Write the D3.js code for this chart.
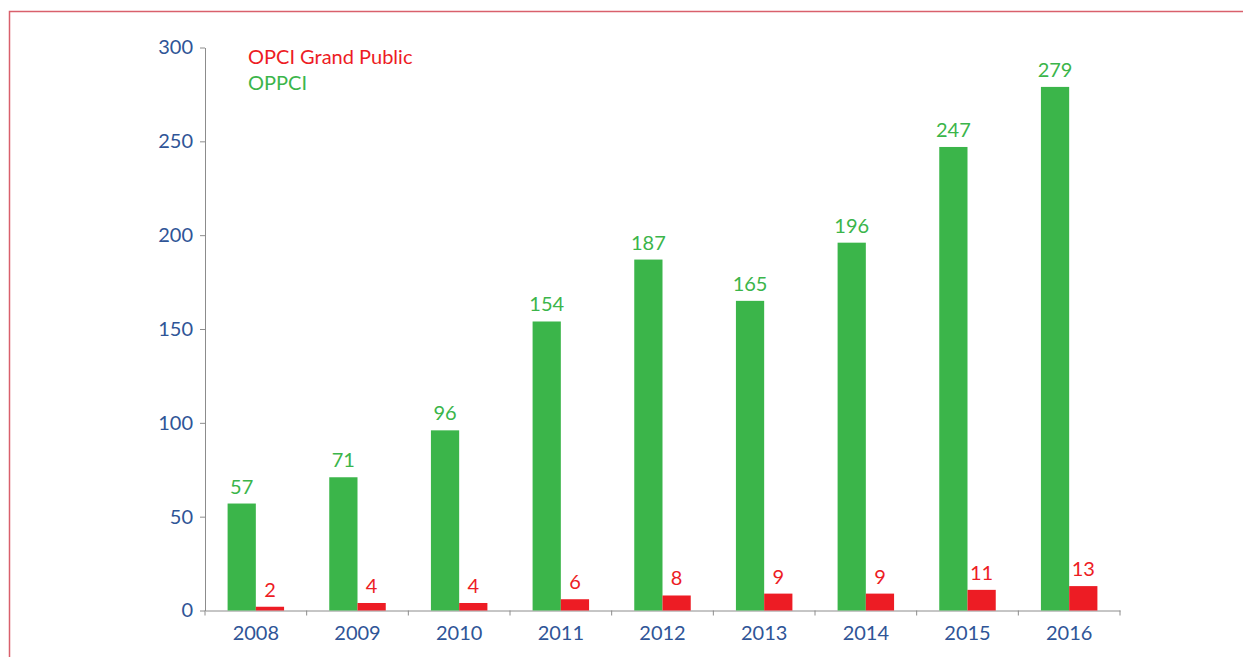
<!DOCTYPE html>
<html>
<head>
<meta charset="utf-8">
<script src="https://cdn.jsdelivr.net/npm/d3@7"></script>
<style>
  body { margin: 0; background: #fff; }
  svg { display: block; }
  svg text { font-family: Lato, "Open Sans", sans-serif; }
</style>
</head>
<body>
<div id="chart"></div>
<script>
const years = ['2008', '2009', '2010', '2011', '2012', '2013', '2014', '2015', '2016']
const oppci = [57, 71, 96, 154, 187, 165, 196, 247, 279]
const opciGP = [2, 4, 4, 6, 8, 9, 9, 11, 13]
const yTicks = [0, 50, 100, 150, 200, 250, 300]

const W = 1243, H = 657
const margin = {top: 47.5, right: 123, bottom: 46.5, left: 205}
const width = W - margin.left - margin.right
const height = H - margin.top - margin.bottom
const fs = 20

const green = '#3bb54a', red = '#ed1c24', blue = '#2f5597', axisCol = '#8c8c8c'

const svg = d3.select('#chart').append('svg')
    .attr('width', W)
    .attr('height', H)

// cadre rose
svg.append('path')
    .attr('d', `M9.5,${H} L9.5,11.5 L${W},11.5`)
    .attr('fill', 'none')
    .attr('stroke', '#d9606c')
    .attr('stroke-width', 1.5)

const g = svg.append('g').attr('transform', `translate(${margin.left},${margin.top})`)

const x = d3.scaleBand().domain(years).range([0, width]).paddingInner(0).paddingOuter(0)
const inner = d3.scaleBand().domain(['oppci', 'gp']).range([0, x.bandwidth()]).paddingInner(0).paddingOuter(0.8)
const y = d3.scaleLinear().domain([0, 300]).range([height, 0])

// axes
const yAxis = d3.axisLeft(y).tickValues(yTicks).tickSize(5).tickSizeOuter(0)
const yg = g.append('g').call(yAxis)
yg.select('.domain').attr('stroke', axisCol)
yg.selectAll('.tick line').attr('stroke', axisCol)
yg.selectAll('.tick text').attr('fill', blue).attr('font-size', fs).attr('x', -12)
    .style('font-family', 'Lato, sans-serif')

const xg = g.append('g').attr('transform', `translate(0,${height})`)
    .call(d3.axisBottom(x).tickSize(0).tickSizeOuter(0))
xg.select('.domain').attr('stroke', axisCol)
xg.selectAll('.tick text').attr('fill', blue).attr('font-size', fs).attr('dy', '1.2em').attr('y', 5)
    .style('font-family', 'Lato, sans-serif')

// graduations entre les catégories
g.append('g').selectAll('line')
    .data(d3.range(years.length + 1))
    .join('line')
    .attr('x1', i => i * x.step())
    .attr('x2', i => i * x.step())
    .attr('y1', height)
    .attr('y2', height + 5)
    .attr('stroke', axisCol)

const series = [
    {key: 'oppci', values: oppci, color: green},
    {key: 'gp', values: opciGP, color: red}
]

series.forEach(s => {
    const grp = g.append('g')
    grp.selectAll('rect')
        .data(s.values)
        .join('rect')
        .attr('x', (d, i) => x(years[i]) + inner(s.key))
        .attr('width', inner.bandwidth())
        .attr('y', d => y(d))
        .attr('height', d => height - y(d))
        .attr('fill', s.color)
    grp.selectAll('text')
        .data(s.values)
        .join('text')
        .attr('x', (d, i) => x(years[i]) + inner(s.key) + inner.bandwidth() / 2)
        .attr('y', d => y(d) - 10)
        .attr('text-anchor', 'middle')
        .attr('font-size', fs)
        .attr('fill', s.color)
        .text(d => d)
})

// légende
const legend = [
    {label: 'OPCI Grand Public', color: red},
    {label: 'OPPCI', color: green}
]
svg.append('g').selectAll('text')
    .data(legend)
    .join('text')
    .attr('x', 248)
    .attr('y', (d, i) => 64 + i * 26)
    .attr('font-size', fs)
    .attr('fill', d => d.color)
    .text(d => d.label)
</script>
</body>
</html>
